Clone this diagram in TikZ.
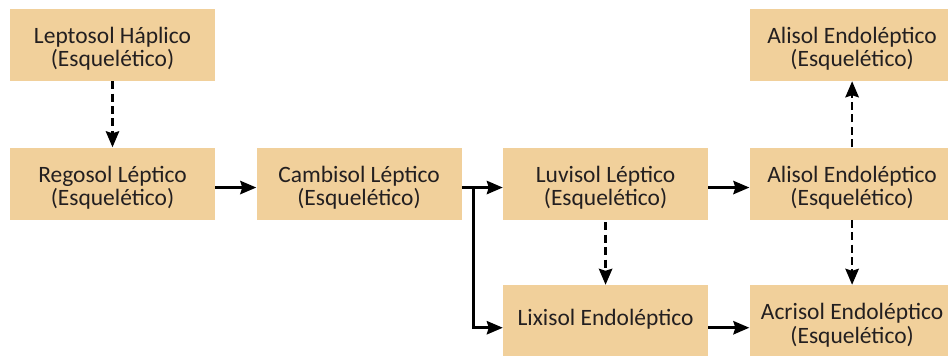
\documentclass[tikz,border=0pt]{standalone}
\usepackage{fontspec}
\setmainfont{Carlito}
\usetikzlibrary{positioning,arrows.meta}
\definecolor{soilbox}{HTML}{F1D09B}
\definecolor{soiltext}{HTML}{231F20}

\begin{document}
\begin{tikzpicture}[
    x=0.75pt, y=-0.75pt,
    node distance=49.5pt and 30.75pt,
    soil/.style={rectangle, fill=soilbox, text=soiltext,
                 minimum width=153.75pt, minimum height=54pt,
                 inner sep=0pt, align=center,
                 text height=11pt, text depth=5pt,
                 font=\fontsize{17.6}{17.5}\selectfont},
    twoline/.style={soil, text height=38pt},
    link/.style={line width=2pt, -{Stealth[length=12pt,width=10pt,inset=1.5pt]}},
    maybe/.style={link, dash pattern=on 6pt off 3.3pt}
]
\useasboundingbox (0,0) rectangle (948,356);

\node[twoline] (leptosol) at (112.5,45) {Leptosol Háplico\\(Esquelético)};
\node[twoline, below=of leptosol] (regosol) {Regosol Léptico\\(Esquelético)};
\node[twoline, right=of regosol] (cambisol) {Cambisol Léptico\\(Esquelético)};
\node[twoline, right=of cambisol] (luvisol) {Luvisol Léptico\\(Esquelético)};
\node[soil, below=48.75pt of luvisol] (lixisol) {Lixisol Endoléptico};
\node[twoline, right=of luvisol] (alisol) {Alisol Endoléptico\\(Esquelético)};
\node[twoline, above=of alisol] (alisoltop) {Alisol Endoléptico\\(Esquelético)};
\node[twoline, right=of lixisol] (acrisol) {Acrisol Endoléptico\\(Esquelético)};

\draw[maybe] (leptosol) -- (regosol);
\draw[link] ([yshift=-3pt]regosol.east) -- ([yshift=-3pt]cambisol.west);
\draw[line width=2pt] ([yshift=-3pt]cambisol.east) -- ++(13,0) coordinate (fork);
\draw[link] (fork) -- ([yshift=-3pt]luvisol.west);
\draw[link] ([xshift=-1pt]fork) |- ([yshift=-5pt]lixisol.west);
\draw[maybe] ([yshift=-2pt]luvisol.south) -- (lixisol);
\draw[link] ([yshift=-3pt]luvisol.east) -- ([yshift=-3pt]alisol.west);
\draw[link] ([yshift=-5pt]lixisol.east) -- ([yshift=-5pt]acrisol.west);
\draw[maybe] (alisol) -- (alisoltop);
\draw[maybe] (alisol) -- (acrisol);
\end{tikzpicture}
\end{document}
